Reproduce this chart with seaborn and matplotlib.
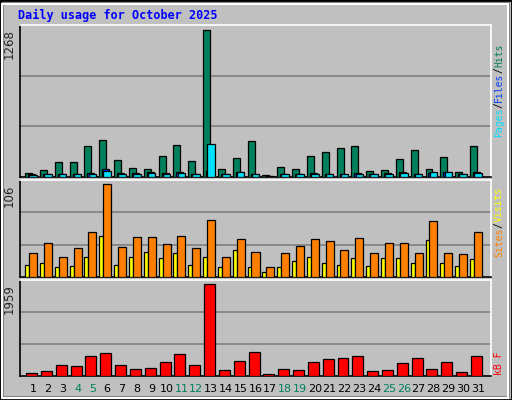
import matplotlib
matplotlib.use("Agg")
import matplotlib.pyplot as plt
import seaborn as sns
import pandas as pd
import numpy as np
from matplotlib.patches import Rectangle

days = list(range(1, 32))
hits = [37,63,132,132,270,322,149,80,72,184,279,141,1268,72,167,313,20,89,72,184,218,253,270,55,63,158,236,72,175,46,270]
files = [25,29,29,29,33,72,33,33,40,33,40,29,50,29,40,29,12,29,29,33,29,29,33,29,33,40,29,33,40,29,40]
pages = [20,25,22,22,29,55,29,29,37,29,37,25,287,25,46,22,8,22,22,29,25,25,29,25,29,37,22,46,46,29,37]
visits = [14,16,12,13,23,47,14,23,29,22,28,14,23,12,31,12,6,12,18,23,16,14,22,13,22,22,16,42,16,13,21]
sites = [28,39,23,33,51,106,34,46,46,38,47,33,65,23,44,29,11,27,36,43,41,31,45,27,39,39,28,64,28,26,52]
kbytes = [72,114,243,222,436,500,243,157,179,307,479,243,1959,136,329,522,50,157,136,307,372,393,436,114,136,286,393,157,307,93,436]
weekend = [4,5,11,12,18,19,25,26]
title = "Daily usage for October 2025"

df = pd.DataFrame(dict(day=days, hits=hits, files=files, pages=pages,
                       visits=visits, sites=sites, kbytes=kbytes))

sns.set_style("white")
plt.rcParams['font.family'] = ['DejaVu Sans Mono', 'DejaVu Sans']
GREY = "#C0C0C0"
fig = plt.figure(figsize=(5.12, 4.0), dpi=100, facecolor=GREY)
W, H = 512, 400

fig.patches.append(Rectangle((0, 0), 1, 1, transform=fig.transFigure, fill=False, ec="black", lw=2))
fig.patches.append(Rectangle((2/W, 2/H), 1-6/W, 1-6/H, transform=fig.transFigure, fill=False, ec="white", lw=1.5))
fig.patches.append(Rectangle((3/W, 3/H), 1-6/W, 1-6/H, transform=fig.transFigure, fill=False, ec="#808080", lw=1.5, zorder=-1))

def mkax(top, bottom):
    ax = fig.add_axes([20/W, 1-bottom/H, (491-20)/W, (bottom-top)/H])
    ax.set_facecolor(GREY)
    for s in ("left", "bottom"):
        ax.spines[s].set_color("black")
    for s in ("top", "right"):
        ax.spines[s].set_color("white")
    for s in ax.spines.values():
        s.set_linewidth(1.2)
    return ax

def bars(ax, col, off, width, color):
    d = pd.DataFrame({"x": df["day"] + off, "y": df[col]})
    sns.barplot(data=d, x="x", y="y", native_scale=True, width=width, color=color,
                saturation=1, edgecolor="black", linewidth=0.9, ax=ax, zorder=3)

def finish(ax, mx, frac):
    top = mx / frac
    ax.set_ylim(0, top)
    ax.set_xlim(0.12, 31.88)
    for g in (top/3, 2*top/3):
        ax.axhline(g, color="#808080", lw=1.2, zorder=1)
    ax.set_xticks([]); ax.set_yticks([])
    ax.set_xlabel(""); ax.set_ylabel("")
    ax.text(-0.022, mx/top, str(mx), transform=ax.transAxes, rotation=90,
            ha="center", va="top", fontsize=8.5, family="DejaVu Sans")

a1 = mkax(25, 177)
bars(a1, "hits", -0.3, 0.47, "#00805C")
bars(a1, "files", -0.1, 0.47, "#0040FF")
bars(a1, "pages", 0.0, 0.5, "#00E0FF")
finish(a1, max(hits), 0.97)

a2 = mkax(180, 277)
bars(a2, "visits", -0.4, 0.27, "#FFFF00")
bars(a2, "sites", 0.0, 0.54, "#FF8000")
finish(a2, max(sites), 0.955)

a3 = mkax(280, 376)
bars(a3, "kbytes", -0.1, 0.74, "#FF0000")
finish(a3, max(kbytes), 0.955)

fig.text(18/W, 1-15/H, title, color="#0000FF", fontsize=8.5, weight="bold", va="center", ha="left")

FS = 7
STEP = 0.6 * FS * 100 / 72
def vlabel(parts, ybottom):
    y = ybottom
    for txt, c in parts:
        fig.text(499/W, 1-y/H, txt, color=c, rotation=90, fontsize=FS, ha="center", va="bottom")
        y -= len(txt) * STEP
vlabel([("Pages", "#00E0FF"), ("/", "black"), ("Files", "#0040FF"), ("/", "black"), ("Hits", "#00805C")], 137)
vlabel([("Sites", "#FF8000"), ("/", "black"), ("Visits", "#FFFF00")], 257)
vlabel([("kB F", "#FF0000")], 375)

for d in days:
    x = 20/W + (d - 0.12) / (31.88 - 0.12) * (471/W)
    fig.text(x, 1-389/H, str(d), ha="center", va="center", fontsize=8,
             color="#00805C" if d in weekend else "black", family="DejaVu Sans")

fig.savefig("out.png", dpi=100, facecolor=GREY)
